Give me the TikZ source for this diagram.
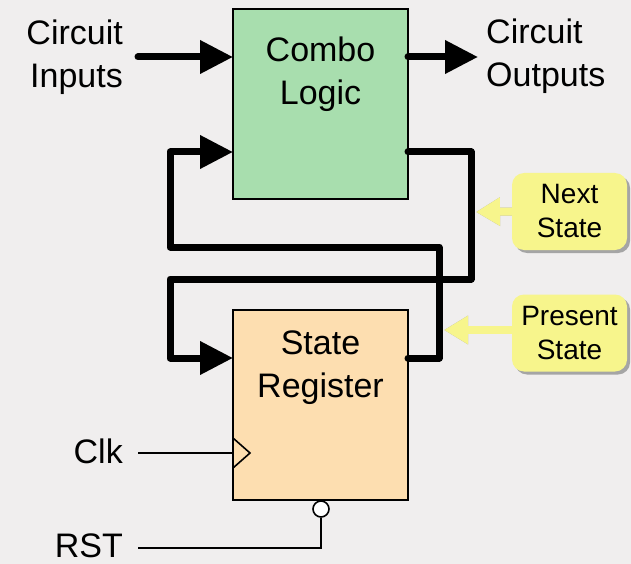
\documentclass[tikz,border=0pt]{standalone}
\usepackage{fontspec}
\setmainfont{Liberation Sans}
\usetikzlibrary{arrows.meta,shadows,calc}
\definecolor{bg}{RGB}{240,238,238}
\definecolor{combofill}{RGB}{168,222,174}
\definecolor{regfill}{RGB}{253,222,176}
\definecolor{notefill}{RGB}{247,245,140}
\definecolor{shadowgray}{RGB}{165,165,165}
\pgfdeclarelayer{back}
\pgfsetlayers{back,main}
\tikzset{
  block/.style={draw=black, line width=1.6pt, inner sep=0pt, outer sep=0pt,
    minimum width=175pt, minimum height=190pt},
  bus/.style={line width=7pt, line cap=round, line join=round},
  busarrow/.style={bus, -{Triangle[length=33pt,width=32pt]}},
  wire/.style={line width=2pt},
  bigtext/.style={font=\fontsize{34}{43}\selectfont, inner sep=0pt},
  note/.style={fill=notefill, rounded corners=12pt, minimum width=115pt,
    minimum height=77pt, inner sep=0pt, align=center,
    font=\fontsize{28}{34}\selectfont,
    drop shadow={shadow xshift=3pt, shadow yshift=-3pt, fill=shadowgray, opacity=1}},
  pointer/.style={line width=8pt, notefill, -{Triangle[length=24pt,width=27pt]}},
  pointershadow/.style={line width=8pt, shadowgray, -{Triangle[length=24pt,width=27pt]}},
}
\begin{document}
\begin{tikzpicture}[x=1pt,y=-1pt]
  % canvas
  \begin{pgfonlayer}{back}
    \fill[bg] (0,0) rectangle (631,564);
  \end{pgfonlayer}
  \useasboundingbox (0,0) rectangle (631,564);

  % blocks (two-line labels are placed by the baseline of their last line)
  \node[block, fill=combofill] (combo) at (320.5,104) {};
  \node[block, fill=regfill] (sreg) at (320.5,405) {};
  \node[bigtext, anchor=base, align=center] (combotxt) at (320.5,105) {Combo\\Logic};
  \node[bigtext, anchor=base, align=center] (sregtxt) at (320.5,397) {State\\Register};

  % external labels
  \node[bigtext, anchor=base east, align=right] (inputs) at (123,88) {Circuit\\Inputs};
  \node[bigtext, anchor=base west, align=left] (outputs) at (486,87) {Circuit\\Outputs};
  \node[bigtext, anchor=base east] (clk) at (123,463) {Clk};
  \node[bigtext, anchor=base east] (rst) at (123,557) {RST};

  % routing points
  \coordinate (inL) at (138,57);
  \coordinate (outR) at (478,57);
  \coordinate (ns) at (471,152);
  \coordinate (ps) at (439,358);
  \coordinate (loopU) at (170,247);
  \coordinate (loopL) at (170,279);
  \coordinate (clkL) at (138,453);
  \coordinate (rstL) at (138,548);

  % buses
  \draw[busarrow] (inL) -- (combo.west |- inL);
  \draw[busarrow] (combo.east |- outR) -- (outR);
  \draw[busarrow] (combo.east |- ns) -- (ns) |- (loopL) |- (sreg.west |- ps);
  \draw[busarrow] (sreg.east |- ps) -- (ps) |- (loopU) |- (combo.west |- ns);

  % clock input
  \draw[wire] (clkL) -- (sreg.west |- clkL);
  \draw[line width=1.6pt, line join=miter] ($(sreg.west |- clkL)+(0,-15)$) -- ++(17,15) -- ++(-17,15);

  % reset input with inversion bubble
  \node[circle, draw, fill=white, line width=1.6pt, minimum size=16pt, inner sep=0pt] (rstb) at (321,509) {};
  \draw[wire] (rstb.south) |- (rstL);

  % callouts
  \node[note] (next) at (569.5,211.5) {Next\\State};
  \node[note] (pres) at (569.5,333) {Present\\State};
  \coordinate (nextTip) at (476,212);
  \coordinate (presTip) at (444,330);
  \begin{pgfonlayer}{back}
    \draw[pointershadow, shift={(3,3)}] (next.west) -- (nextTip);
    \draw[pointershadow, shift={(3,3)}] (pres.west |- presTip) -- (presTip);
    \draw[pointer] (next.west) -- (nextTip);
    \draw[pointer] (pres.west |- presTip) -- (presTip);
  \end{pgfonlayer}
\end{tikzpicture}
\end{document}
